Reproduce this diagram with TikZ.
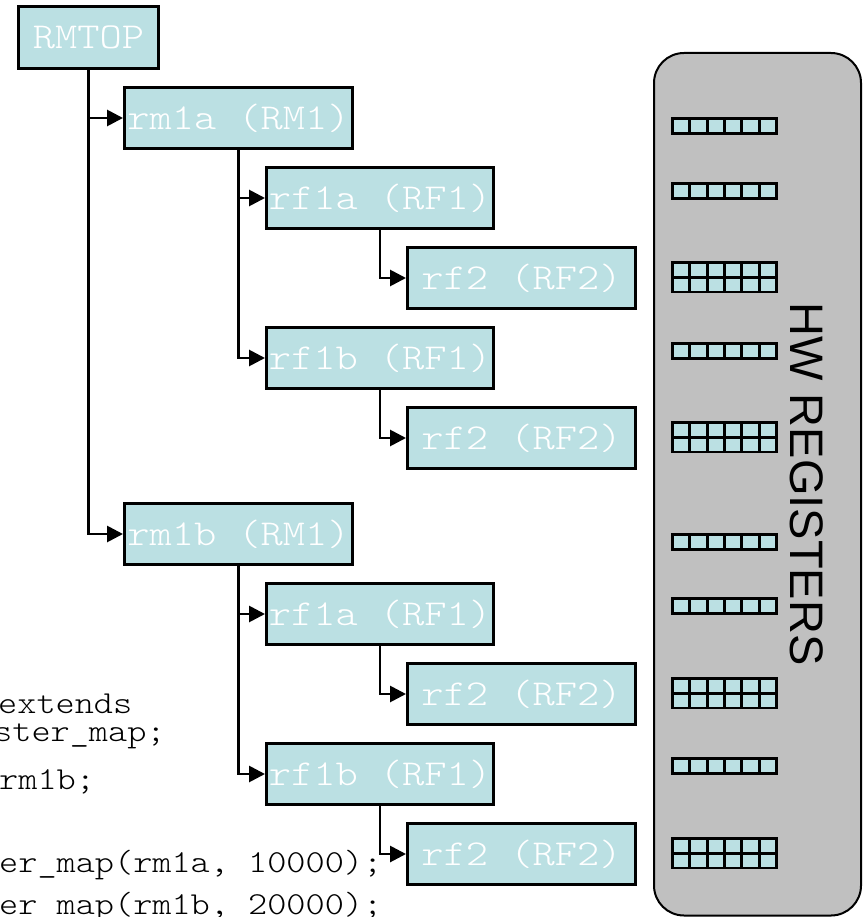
\documentclass[tikz,border=0pt]{standalone}
\usepackage{fontspec}
\setmainfont{Liberation Sans}
\newfontfamily\boxfam[FakeStretch=1.16]{Latin Modern Mono Light}
\newfontfamily\codefam[FakeStretch=1.14]{Latin Modern Mono Light}
\usetikzlibrary{arrows.meta}
\definecolor{boxfill}{RGB}{187,224,227}
\definecolor{panelgray}{RGB}{192,192,192}
\tikzset{
  treebox/.style={draw=black, line width=3pt, fill=boxfill, text=white, inner sep=0pt,
    minimum height=61pt, font=\boxfam\fontsize{36.5}{40}\selectfont},
  link/.style={draw=black, line width=2.8pt, -{Triangle[length=16pt,width=16pt]}},
  regcell/.style={draw=black, line width=2.8pt, fill=boxfill},
  codetxt/.style={anchor=base west, inner sep=0pt, text=black, font=\codefam\fontsize{32}{36}\selectfont}
}
\begin{document}
\begin{tikzpicture}[x=1pt,y=-1pt]
\useasboundingbox (0,0) rectangle (862,917);
\clip (0,0) rectangle (862,917);
% HW registers panel
\draw[fill=panelgray, draw=black, line width=2pt, rounded corners=30pt] (654,53) rectangle (861,915.5);
\node[rotate=-90, font=\fontsize{47}{50}\selectfont, inner sep=0pt] (hwreg) at (807,484) {HW REGISTERS};
\foreach \yt/\nr in {117/1,182/1,261/2,342/1,421/2,533/1,597/1,677/2,757/1,837/2}{
  \foreach \i in {0,...,5}{
    \foreach \j in {1,...,\nr}{
      \draw[regcell] ({672.5+\i*17.33},{\yt+1.5+(\j-1)*14.7}) rectangle ++(17.33,14.7);
    }
  }
}
% tree nodes
\node[treebox, minimum width=140pt, minimum height=62pt] (top) at (88.5,37.5) {RMTOP};
\node[treebox, minimum width=228pt] (rmA) at (238.5,118) {rm1a (RM1)};
\node[treebox, minimum width=227pt] (rfAa) at (380,198) {rf1a (RF1)};
\node[treebox, minimum width=228pt] (rfAa2) at (521.5,278) {rf2 (RF2)};
\node[treebox, minimum width=227pt] (rfAb) at (380,358) {rf1b (RF1)};
\node[treebox, minimum width=228pt] (rfAb2) at (521.5,438) {rf2 (RF2)};
\node[treebox, minimum width=228pt] (rmB) at (238.5,534) {rm1b (RM1)};
\node[treebox, minimum width=227pt] (rfBa) at (380,614) {rf1a (RF1)};
\node[treebox, minimum width=228pt] (rfBa2) at (521.5,694) {rf2 (RF2)};
\node[treebox, minimum width=227pt] (rfBb) at (380,774) {rf1b (RF1)};
\node[treebox, minimum width=228pt] (rfBb2) at (521.5,854) {rf2 (RF2)};
% connectors
\draw[link] (top.south) |- (rmA.west);
\draw[link] (top.south) |- (rmB.west);
\draw[link] (rmA.south) |- (rfAa.west);
\draw[link] (rmA.south) |- (rfAb.west);
\draw[link] (rfAa.south) |- (rfAa2.west);
\draw[link] (rfAb.south) |- (rfAb2.west);
\draw[link] (rmB.south) |- (rfBa.west);
\draw[link] (rmB.south) |- (rfBb.west);
\draw[link] (rfBa.south) |- (rfBa2.west);
\draw[link] (rfBb.south) |- (rfBb2.west);
% code text
\node[codetxt] (c1) at (-2,713) {extends};
\node[codetxt] (c2) at (-7,741) {ster\_map;};
\node[codetxt] (c3) at (-1,789) {rm1b;};
\node[codetxt] (c4) at (-1,872) {er\_map(rm1a, 10000);};
\node[codetxt] (c5) at (-1,914) {er\_map(rm1b, 20000);};
\end{tikzpicture}
\end{document}
